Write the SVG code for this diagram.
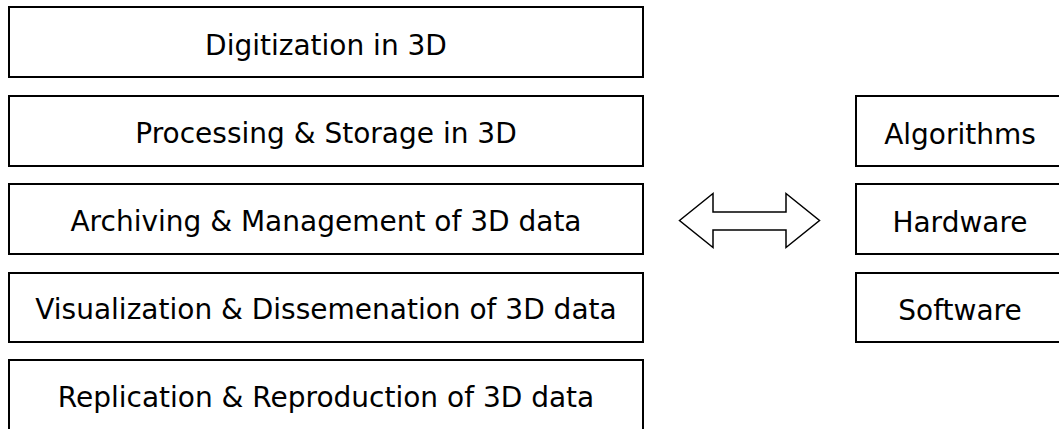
<svg xmlns="http://www.w3.org/2000/svg" width="1059" height="429" viewBox="0 0 1059 429">
  <style>
    .box { fill: #ffffff; stroke: #000000; stroke-width: 2; }
    .label { font-family: "DejaVu Sans", Verdana, sans-serif; font-size: 28px; fill: #000000; text-anchor: middle; }
    .link { fill: #ffffff; stroke: #000000; stroke-width: 1.5; stroke-linejoin: miter; }
  </style>
  <rect width="1059" height="429" fill="#ffffff"/>

  <!-- stages of the 3D workflow -->
  <g id="digitization">
    <rect class="box" x="9" y="7" width="634" height="70"/>
    <text class="label" x="326" y="55">Digitization in 3D</text>
  </g>
  <g id="processing">
    <rect class="box" x="9" y="96" width="634" height="70"/>
    <text class="label" x="326" y="143">Processing &amp; Storage in 3D</text>
  </g>
  <g id="archiving">
    <rect class="box" x="9" y="184" width="634" height="70"/>
    <text class="label" x="326" y="231">Archiving &amp; Management of 3D data</text>
  </g>
  <g id="visualization">
    <rect class="box" x="9" y="273" width="634" height="69"/>
    <text class="label" x="326" y="319">Visualization &amp; Dissemenation of 3D data</text>
  </g>
  <g id="replication">
    <rect class="box" x="9" y="360" width="634" height="80"/>
    <text class="label" x="326" y="407">Replication &amp; Reproduction of 3D data</text>
  </g>

  <!-- supporting technologies -->
  <g id="algorithms">
    <rect class="box" x="856" y="96" width="250" height="70"/>
    <text class="label" x="960" y="144">Algorithms</text>
  </g>
  <g id="hardware">
    <rect class="box" x="856" y="184" width="250" height="70"/>
    <text class="label" x="960" y="232">Hardware</text>
  </g>
  <g id="software">
    <rect class="box" x="856" y="273" width="250" height="69"/>
    <text class="label" x="960" y="320">Software</text>
  </g>

  <!-- two-way block arrow between the columns -->
  <g id="connectors">
    <path class="link" d="M679.5,220.5 L713,193.5 L713,212 L786,212 L786,193.5 L819.5,220.5 L786,247.5 L786,230 L713,230 L713,247.5 Z"/>
  </g>
</svg>
